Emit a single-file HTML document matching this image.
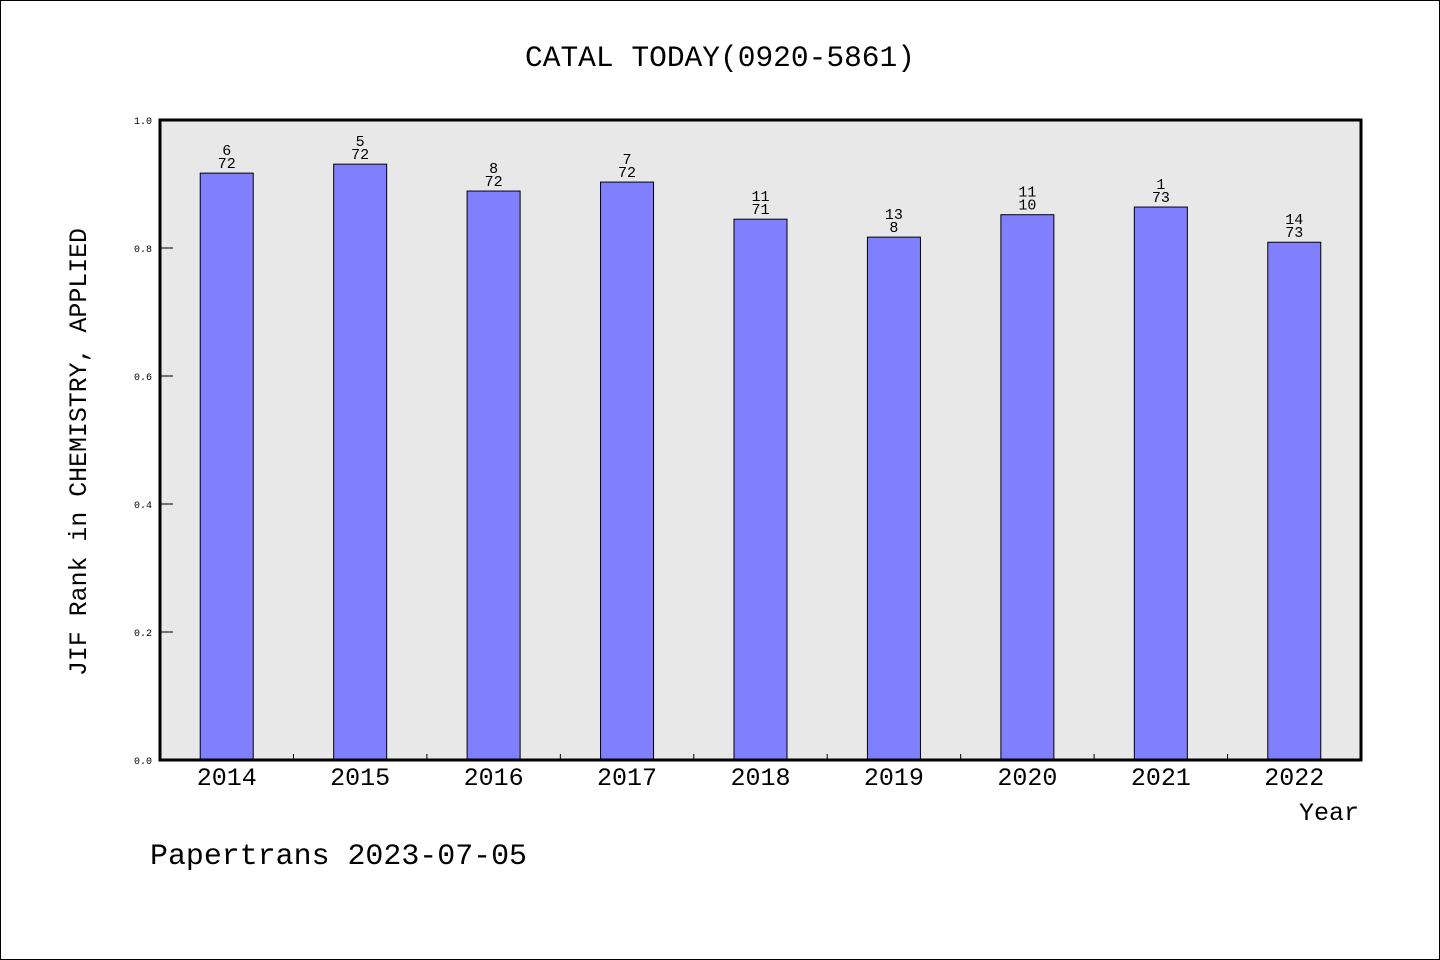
<!DOCTYPE html>
<html><head><meta charset="utf-8"><style>
body{margin:0;background:#fff}
svg{display:block;font-family:"Liberation Mono",monospace}
</style></head><body>
<svg id="chart" width="1440" height="960" xmlns="http://www.w3.org/2000/svg">
<rect x="0.5" y="0.5" width="1439" height="959" fill="#fff" stroke="#000"/>
<text x="720" y="66" font-size="30" text-anchor="middle" textLength="390" lengthAdjust="spacingAndGlyphs">CATAL TODAY(0920-5861)</text>
<rect x="160" y="120" width="1201" height="640" fill="#e8e8e8"/>
<g id="bars"></g>
<g id="axes"></g>
<rect x="160" y="120" width="1201" height="640" fill="none" stroke="#000" stroke-width="3"/>
<text transform="translate(86,452) rotate(-90)" font-size="25" text-anchor="middle" textLength="448" lengthAdjust="spacingAndGlyphs">JIF Rank in CHEMISTRY, APPLIED</text>
<text x="1359" y="820" font-size="25" text-anchor="end">Year</text>
<text x="150" y="864" font-size="30" textLength="377" lengthAdjust="spacingAndGlyphs">Papertrans 2023-07-05</text>
</svg>
<script>
const categories=["2014","2015","2016","2017","2018","2019","2020","2021","2022"];
const values=[0.917,0.931,0.889,0.903,0.845,0.817,0.852,0.864,0.809];
const rankTop=["6","5","8","7","11","13","11","1","14"];
const rankBottom=["72","72","72","72","71","8","10","73","73"];
const yTicks=[0,0.2,0.4,0.6,0.8,1.0];
const yTickLabels=["0.0","0.2","0.4","0.6","0.8","1.0"];
const NS="http://www.w3.org/2000/svg";
const X0=160,X1=1361,Y0=760,Y1=120;
const band=(X1-X0)/categories.length;
const xc=i=>X0+band*(i+0.5);
const y=v=>Y0-(Y0-Y1)*v;
function mk(t,a,p){const e=document.createElementNS(NS,t);for(const k in a)e.setAttribute(k,a[k]);p.appendChild(e);return e;}
const bars=document.getElementById('bars'),axes=document.getElementById('axes');
categories.forEach((c,i)=>{
  const r=mk('rect',{x:xc(i)-26.5,y:y(values[i]),width:53,height:Y0-y(values[i]),fill:'#8080ff',stroke:'#000','stroke-width':1},bars);
  
  
  const t1=mk('text',{x:xc(i),y:y(values[i])-18,'font-size':15,'text-anchor':'middle'},bars);t1.textContent=rankTop[i];
  
  
  const t2=mk('text',{x:xc(i),y:y(values[i])-5,'font-size':15,'text-anchor':'middle'},bars);t2.textContent=rankBottom[i];
  
  
  const xl=mk('text',{x:xc(i),y:785,'font-size':25,'text-anchor':'middle'},axes);xl.textContent=c;
  
  
  if(i>0){const tk=mk('line',{x1:X0+band*i,x2:X0+band*i,y1:Y0,y2:Y0-6,stroke:'#000'},axes);
  
  }
});
yTicks.forEach((v,i)=>{
  const tk=mk('line',{x1:X0,x2:X0+13,y1:y(v),y2:y(v),stroke:'#000'},axes);
  
  
  const tl=mk('text',{x:152,y:y(v)+4,'font-size':10,'text-anchor':'end'},axes);tl.textContent=yTickLabels[i];
  
  
});
</script>
</body></html>
